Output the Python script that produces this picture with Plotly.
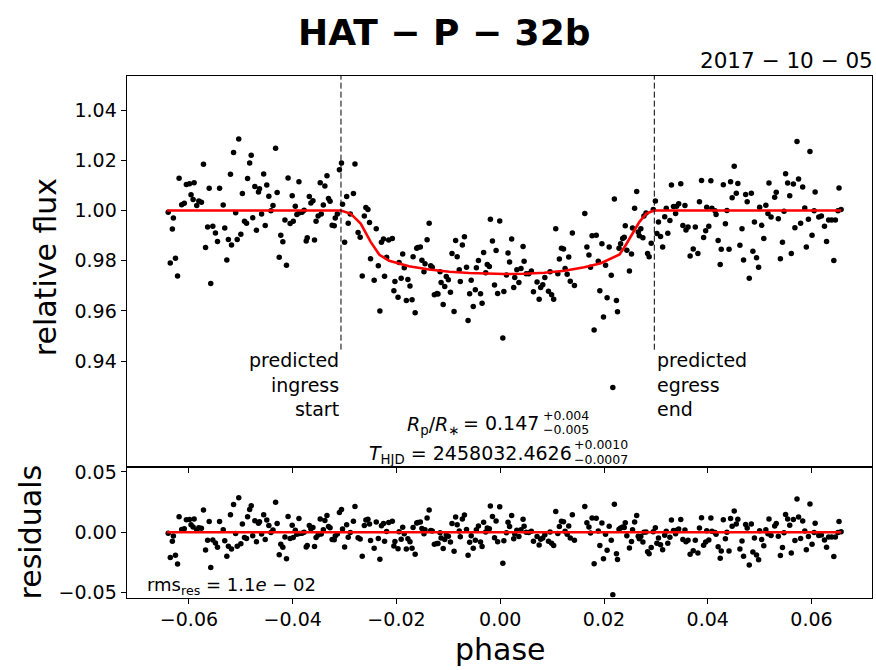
import numpy as np
import plotly.graph_objects as go

# ---------------- data ----------------
phase = [
 -0.0640,-0.0636,-0.0632,-0.0630,-0.0626,-0.0622,-0.0619,-0.0614,-0.0609,-0.0605,
 -0.0599,-0.0596,-0.0592,-0.0590,-0.0585,-0.0581,-0.0576,-0.0572,-0.0568,-0.0564,
 -0.0561,-0.0558,-0.0554,-0.0549,-0.0545,-0.0541,-0.0534,-0.0531,-0.0527,-0.0524,
 -0.0520,-0.0518,-0.0514,-0.0510,-0.0507,-0.0504,-0.0500,-0.0497,-0.0493,-0.0489,
 -0.0487,-0.0483,-0.0480,-0.0477,-0.0473,-0.0470,-0.0466,-0.0464,-0.0460,-0.0456,
 -0.0453,-0.0450,-0.0446,-0.0442,-0.0438,
 -0.0433,-0.0430,-0.0426,-0.0423,-0.0419,-0.0415,-0.0412,-0.0409,-0.0405,-0.0401,
 -0.0399,-0.0395,-0.0392,-0.0388,-0.0387,-0.0382,-0.0378,-0.0374,-0.0372,-0.0368,
 -0.0365,-0.0361,-0.0358,-0.0355,-0.0351,-0.0347,-0.0345,-0.0341,-0.0338,-0.0334,
 -0.0331,-0.0328,-0.0324,-0.0320,-0.0318,-0.0314,-0.0310,-0.0306,-0.0304,-0.0300,
 -0.0296,-0.0293,-0.0289,-0.0283,-0.0280,-0.0274,-0.0270,-0.0266,-0.0262,-0.0259,
 -0.0255,-0.0252,-0.0250,-0.0243,-0.0239,-0.0235,-0.0232,-0.0229,-0.0225,-0.0223,
 -0.0219,-0.0215,
 -0.0208,-0.0205,-0.0203,-0.0197,-0.0195,-0.0191,-0.0188,-0.0185,-0.0181,-0.0178,
 -0.0174,-0.0170,-0.0168,-0.0164,-0.0161,-0.0159,-0.0154,-0.0151,-0.0147,-0.0145,
 -0.0141,-0.0137,-0.0134,-0.0131,-0.0127,-0.0122,-0.0120,-0.0116,-0.0114,-0.0110,
 -0.0107,-0.0104,-0.0100,-0.0096,-0.0093,-0.0089,-0.0086,-0.0083,-0.0079,-0.0077,
 -0.0073,-0.0069,-0.0065,-0.0062,-0.0059,-0.0056,-0.0052,-0.0048,-0.0046,-0.0042,
 -0.0038,-0.0035,-0.0032,-0.0028,-0.0025,-0.0021,-0.0019,-0.0015,-0.0011,-0.0008,
 -0.0005,-0.0001, 0.0005, 0.0007,
  0.0012, 0.0015, 0.0018, 0.0022, 0.0026, 0.0028, 0.0032, 0.0036, 0.0040, 0.0044,
  0.0046, 0.0050, 0.0055, 0.0060, 0.0064, 0.0071, 0.0075, 0.0078, 0.0082, 0.0086,
  0.0093, 0.0096, 0.0099, 0.0103, 0.0107, 0.0111, 0.0114, 0.0118, 0.0122, 0.0125,
  0.0129, 0.0132, 0.0135, 0.0139, 0.0143, 0.0163, 0.0167, 0.0171, 0.0174, 0.0177,
  0.0181, 0.0185, 0.0189, 0.0192, 0.0196, 0.0199, 0.0203, 0.0206, 0.0210, 0.0214,
  0.0217, 0.0220, 0.0224, 0.0226, 0.0229,
  0.0232, 0.0236, 0.0239, 0.0241, 0.0244, 0.0249, 0.0253, 0.0255, 0.0259, 0.0263,
  0.0266, 0.0268, 0.0271, 0.0275, 0.0277, 0.0281, 0.0284, 0.0287, 0.0291, 0.0295,
  0.0299, 0.0302, 0.0305, 0.0309, 0.0313, 0.0317, 0.0320, 0.0323, 0.0327, 0.0330,
  0.0334, 0.0338, 0.0340, 0.0344, 0.0348, 0.0352, 0.0356, 0.0358, 0.0362, 0.0366,
  0.0372, 0.0376, 0.0381, 0.0384, 0.0388, 0.0392, 0.0396, 0.0398, 0.0402, 0.0406,
  0.0408, 0.0414, 0.0416, 0.0420, 0.0424, 0.0426, 0.0430, 0.0434, 0.0437, 0.0441,
  0.0444, 0.0447, 0.0451,
  0.0455, 0.0458, 0.0462, 0.0466, 0.0469, 0.0473, 0.0476, 0.0480, 0.0484, 0.0487,
  0.0490, 0.0494, 0.0498, 0.0500, 0.0504, 0.0508, 0.0512, 0.0516, 0.0518, 0.0522,
  0.0529, 0.0532, 0.0536, 0.0540, 0.0544, 0.0547, 0.0550, 0.0554, 0.0558, 0.0561,
  0.0565, 0.0568, 0.0572, 0.0575, 0.0579, 0.0583, 0.0587, 0.0590, 0.0594, 0.0597,
  0.0601, 0.0605, 0.0607, 0.0614, 0.0619, 0.0625, 0.0629, 0.0633, 0.0639, 0.0643,
  0.0646, 0.0651, 0.0653, 0.0657,
]

flux = [
 0.9993,0.9791,0.9927,0.9970,0.9810,0.9739,1.0129,1.0023,1.0029,1.0104,
 1.0107,1.0063,1.0044,1.0111,1.0020,1.0038,1.0033,1.0184,0.9853,0.9934,
 1.0089,0.9709,0.9937,0.9911,0.9877,1.0089,1.0022,0.9931,0.9803,0.9885,
 1.0145,0.9863,1.0231,0.9991,0.9885,1.0285,0.9906,1.0068,0.9957,0.9949,
 1.0128,1.0189,1.0220,0.9971,1.0096,0.9922,1.0074,1.0087,0.9986,1.0146,
 0.9940,1.0102,1.0057,0.9999,1.0020,
 1.0248,1.0072,0.9814,0.9902,0.9876,0.9962,0.9782,1.0130,0.9948,1.0059,
 0.9957,1.0017,0.9984,1.0115,0.9991,0.9993,1.0001,0.9879,0.9892,1.0056,
 1.0030,1.0039,0.9883,0.9957,0.9978,1.0111,0.9986,1.0022,1.0098,1.0139,
 1.0048,1.0037,0.9941,0.9939,0.9970,0.9986,1.0163,1.0189,1.0025,0.9874,
 1.0056,0.9949,0.9986,1.0068,1.0185,0.9913,0.9894,0.9739,0.9978,1.0012,
 1.0004,0.9952,0.9808,0.9722,0.9928,0.9780,0.9600,0.9874,0.9887,0.9738,
 0.9814,0.9883,
 0.9889,0.9681,0.9717,0.9655,0.9793,0.9730,0.9827,0.9772,0.9642,0.9725,
 0.9700,0.9645,0.9816,0.9593,0.9850,0.9853,0.9855,0.9802,0.9756,0.9788,
 0.9884,0.9949,0.9780,0.9774,0.9665,0.9670,0.9668,0.9756,0.9713,0.9626,
 0.9698,0.9737,0.9724,0.9675,0.9829,0.9598,0.9881,0.9816,0.9764,0.9717,
 0.9863,0.9896,0.9774,0.9562,0.9669,0.9722,0.9618,0.9685,0.9772,0.9801,
 0.9669,0.9631,0.9833,0.9752,0.9785,0.9777,0.9965,0.9879,0.9703,0.9841,
 0.9670,0.9958,0.9492,0.9678,
 0.9743,0.9831,0.9795,0.9887,0.9694,0.9733,0.9764,0.9713,0.9769,0.9857,
 0.9798,0.9748,0.9748,0.9759,0.9677,0.9715,0.9647,0.9694,0.9704,0.9733,
 0.9679,0.9756,0.9665,0.9647,0.9928,0.9748,0.9807,0.9850,0.9847,0.9769,
 0.9746,0.9815,0.9718,0.9911,0.9701,0.9988,0.9855,0.9823,0.9774,0.9900,
 0.9524,0.9902,0.9798,0.9681,0.9868,0.9576,0.9782,0.9653,0.9855,0.9742,
 0.9295,1.0046,0.9642,0.9597,0.9850,
 0.9868,0.9889,0.9894,0.9939,0.9842,0.9759,0.9827,0.9931,1.0009,1.0076,
 0.9915,0.9900,0.9928,0.9892,0.9978,0.9990,0.9829,0.9816,0.9870,1.0004,
 1.0038,0.9909,0.9954,0.9897,0.9855,0.9975,1.0009,0.9910,0.9960,1.0102,
 1.0016,0.9988,1.0017,1.0027,1.0107,0.9940,1.0020,0.9923,0.9934,0.9819,
 0.9847,0.9934,0.9829,1.0035,1.0120,0.9893,0.9920,1.0013,0.9937,1.0119,
 1.0009,0.9999,0.9984,0.9881,0.9785,0.9846,1.0103,0.9947,1.0000,0.9846,
 1.0115,1.0051,1.0176,
 1.0069,1.0108,0.9862,0.9928,0.9803,1.0064,1.0035,0.9730,1.0069,0.9838,
 0.9954,0.9812,0.9774,1.0013,0.9941,0.9889,1.0021,0.9988,1.0110,0.9974,
 1.0053,1.0073,0.9967,0.9808,0.9874,0.9997,1.0147,1.0110,1.0059,0.9829,
 1.0106,0.9932,1.0275,1.0126,0.9949,1.0094,1.0010,0.9855,0.9965,1.0235,
 0.9902,0.9999,1.0074,0.9974,0.9978,0.9937,0.9877,0.9962,0.9962,0.9801,
 0.9962,0.9999,1.0090,1.0004,
]

# best-fit transit model (red curve)
model_phase = [-0.0642, -0.0307, -0.0288, -0.0269, -0.0250, -0.0233, -0.0214, -0.0176,
               -0.0137, -0.0098, -0.0060, -0.0021, 0.0008, 0.0046, 0.0085, 0.0124,
               0.0162, 0.0194, 0.0214, 0.0230, 0.0242, 0.0255, 0.0268, 0.0281,
               0.0296, 0.0657]
model_flux = [1.0000, 1.0000, 0.9987, 0.9948, 0.9876, 0.9824, 0.9800, 0.9778,
              0.9765, 0.9756, 0.9751, 0.9748, 0.9747, 0.9748, 0.9752, 0.9760,
              0.9774, 0.9790, 0.9808, 0.9825, 0.9863, 0.9909, 0.9954, 0.9987,
              1.0000, 1.0000]

ingress_phase = -0.0307
egress_phase = 0.0297

x_ticks = [-0.06, -0.04, -0.02, 0.00, 0.02, 0.04, 0.06]
y_ticks = [0.94, 0.96, 0.98, 1.00, 1.02, 1.04]
res_ticks = [-0.05, 0.00, 0.05]

# residuals = data - model
phase_a = np.array(phase)
flux_a = np.array(flux)
resid = flux_a - np.interp(phase_a, model_phase, model_flux)
model_res_x = [model_phase[0], model_phase[-1]]
model_res_y = [0.0, 0.0]

# ---------------- figure ----------------
W, H = 876, 670
def PX(px): return px / W
def PY(py): return 1 - py / H

FONT = "DejaVu Sans"
fig = go.Figure()

fig.add_trace(go.Scatter(x=phase, y=flux, mode="markers",
                         marker=dict(color="black", size=5.5, line=dict(width=0)),
                         xaxis="x", yaxis="y", showlegend=False))
fig.add_trace(go.Scatter(x=model_phase, y=model_flux, mode="lines",
                         line=dict(color="red", width=2.6),
                         xaxis="x", yaxis="y", showlegend=False))
fig.add_trace(go.Scatter(x=phase, y=resid, mode="markers",
                         marker=dict(color="black", size=5.5, line=dict(width=0)),
                         xaxis="x2", yaxis="y2", showlegend=False))
fig.add_trace(go.Scatter(x=model_res_x, y=model_res_y, mode="lines",
                         line=dict(color="red", width=2.6),
                         xaxis="x2", yaxis="y2", showlegend=False))

xrange = [-0.0720, 0.0716]
axis_common = dict(showline=True, linecolor="black", linewidth=1.3, mirror=True,
                   ticks="outside", ticklen=5, tickwidth=1.3, tickcolor="black",
                   showgrid=False, zeroline=False,
                   tickfont=dict(family=FONT, size=19, color="black"))

fig.update_layout(
    width=W, height=H,
    margin=dict(l=0, r=0, t=0, b=0),
    paper_bgcolor="white", plot_bgcolor="white",
    font=dict(family=FONT, color="black"),
    xaxis=dict(domain=[PX(126.7), PX(871.7)], anchor="y", range=xrange,
               tickvals=x_ticks, showticklabels=False, **axis_common),
    yaxis=dict(domain=[PY(469.3), PY(71)], anchor="x", range=[0.8979, 1.0537],
               tickvals=y_ticks, tickformat=".2f", **axis_common),
    xaxis2=dict(domain=[PX(126.7), PX(871.7)], anchor="y2", range=xrange,
                tickvals=x_ticks, tickformat=".2f", **axis_common),
    yaxis2=dict(domain=[PY(602.3), PY(469.3)], anchor="x2", range=[-0.0539, 0.0541],
                tickvals=res_ticks, tickformat=".2f", **axis_common),
)

# predicted ingress / egress lines
for xp in (ingress_phase, egress_phase):
    fig.add_shape(type="line", xref="x", yref="y", x0=xp, x1=xp, y0=0.9446, y1=1.0537,
                  line=dict(color="black", width=1, dash="6px,3px"))

ann = []
def A(text, x, y, size, xanchor="center", yanchor="middle", align="center", angle=0, pad=1):
    ann.append(dict(text=text, x=PX(x), y=PY(y), xref="paper", yref="paper",
                    xanchor=xanchor, yanchor=yanchor, align=align, textangle=angle,
                    borderpad=pad, showarrow=False,
                    font=dict(family=FONT, size=size, color="black")))

A("<b>HAT − P − 32b</b>", 444, 27, 36)
A("2017 − 10 − 05", 875, 55, 21.5, xanchor="right")
A("predicted<br>ingress<br>start", 341, 347, 19, xanchor="right", yanchor="top", align="right")
A("predicted<br>egress<br>end", 655, 347, 19, xanchor="left", yanchor="top", align="left")

A("<i>R</i><sub>p</sub>/<i>R</i><sub>∗</sub>", 405, 427, 19, xanchor="left")
A("= 0.147", 541, 425, 19, xanchor="right")
A("+0.004", 542, 417, 12.5, xanchor="left", pad=0)
A("−0.005", 542, 431.5, 12.5, xanchor="left", pad=0)
A("<i>T</i><sub>HJD</sub> = 2458032.4626", 367, 457, 19, xanchor="left")
A("+0.0010", 573, 447, 12.5, xanchor="left", pad=0)
A("−0.0007", 573, 461.5, 12.5, xanchor="left", pad=0)

A("rms<sub>res</sub> = 1.1<i>e</i> − 02", 145, 591, 18, xanchor="left")

A("relative flux", 45, 266, 30, angle=-90)
A("residuals", 30, 536, 30, angle=-90)
A("phase", 500, 655, 30)

fig.update_layout(annotations=ann)
fig.write_html("out.html")
